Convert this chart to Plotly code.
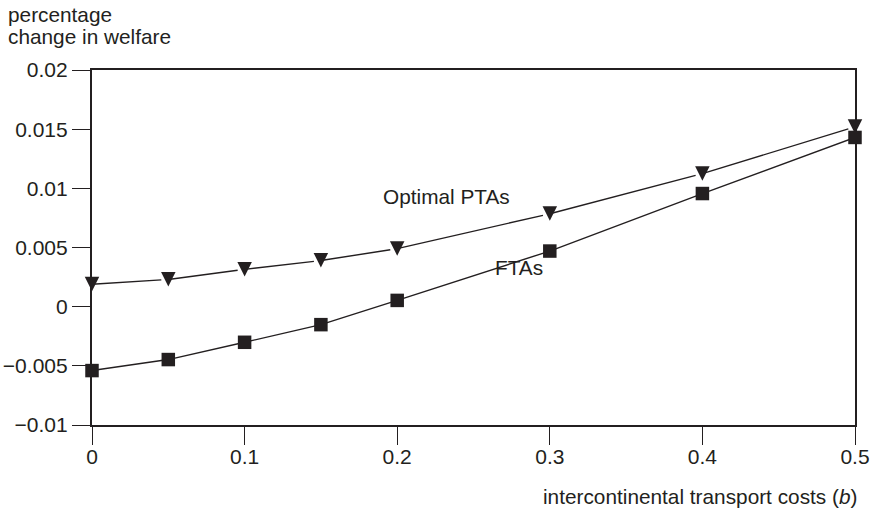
import plotly.graph_objects as go

# Intercontinental transport costs (b)
transport_costs = [0, 0.05, 0.1, 0.15, 0.2, 0.3, 0.4, 0.5]

# Percentage change in welfare
optimal_ptas = [0.0019, 0.0023, 0.00315, 0.0039, 0.0049, 0.00785, 0.01124, 0.0152]
ftas = [-0.0054, -0.00447, -0.00301, -0.00152, 0.00053, 0.0047, 0.00956, 0.0143]

x_ticks = [0, 0.1, 0.2, 0.3, 0.4, 0.5]
x_tick_text = ["0", "0.1", "0.2", "0.3", "0.4", "0.5"]
y_ticks = [-0.01, -0.005, 0, 0.005, 0.01, 0.015, 0.02]
y_tick_text = ["\u22120.01", "\u22120.005", "0", "0.005", "0.01", "0.015", "0.02"]

INK = "#231f20"
FONT = "Liberation Sans, Arial, Helvetica, sans-serif"

fig = go.Figure()

fig.add_trace(go.Scatter(
    x=transport_costs, y=optimal_ptas, mode="lines+markers",
    name="Optimal PTAs",
    line=dict(color=INK, width=1.4),
    marker=dict(symbol="arrow-down", size=14.5, standoff=7, color=INK),
    cliponaxis=False,
))
fig.add_trace(go.Scatter(
    x=transport_costs, y=ftas, mode="lines+markers",
    name="FTAs",
    line=dict(color=INK, width=1.4),
    marker=dict(symbol="square", size=13.5, color=INK),
    cliponaxis=False,
))

axis_common = dict(
    showline=True, mirror=True, linewidth=2.2, linecolor=INK,
    ticks="outside", ticklen=18, tickwidth=1.2, tickcolor=INK,
    showgrid=False, zeroline=False, automargin=False,
    tickfont=dict(family=FONT, size=21, color=INK),
)

fig.update_xaxes(range=[0, 0.5], tickvals=x_ticks, ticktext=x_tick_text,
                 ticklabelstandoff=-6, **axis_common)
fig.update_yaxes(range=[-0.01, 0.02], tickvals=y_ticks, ticktext=y_tick_text, **axis_common)

text_font = dict(family=FONT, size=20.8, color=INK)
annotations = [
    dict(text="Optimal PTAs", x=0.232, y=0.00928, xref="x", yref="y",
         showarrow=False, font=text_font),
    dict(text="FTAs", x=0.2798, y=0.00329, xref="x", yref="y",
         showarrow=False, font=text_font),
    dict(text="percentage", x=-0.1127, y=1.1575, xref="paper", yref="paper",
         xanchor="left", yanchor="middle", showarrow=False, font=text_font),
    dict(text="change in welfare", x=-0.1127, y=1.0956, xref="paper", yref="paper",
         xanchor="left", yanchor="middle", showarrow=False, font=text_font),
    dict(text="intercontinental transport costs (<i>b</i>)", x=1, y=-0.2,
         xref="paper", yref="paper", xanchor="right", yanchor="middle",
         xshift=4, showarrow=False, font=text_font),
]

fig.update_layout(
    width=877, height=511,
    margin=dict(l=92, r=22, t=70, b=85.5, autoexpand=False),
    paper_bgcolor="white", plot_bgcolor="white",
    showlegend=False,
    annotations=annotations,
    font=dict(family=FONT, color=INK),
)

fig.write_html("out.html")
